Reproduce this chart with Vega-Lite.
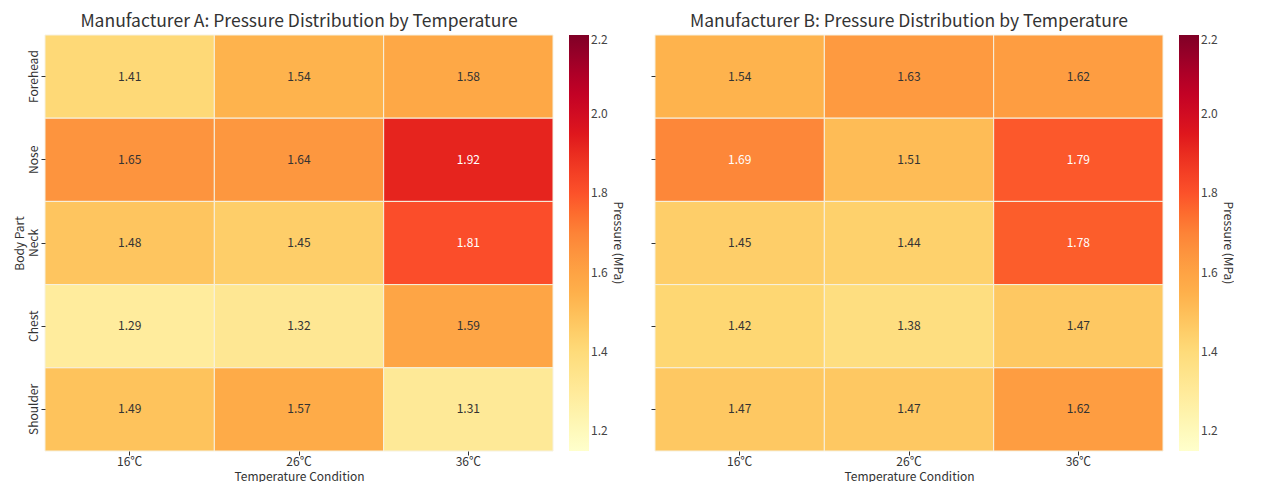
{
  "$schema": "https://vega.github.io/schema/vega-lite/v6.json",
  "padding": {"left": 13, "top": 13, "right": 0, "bottom": 0},
  "background": "white",
  "config": {
    "font": "Noto Sans CJK KR",
    "view": {"stroke": null},
    "axis": {"grid": false, "domain": false, "tickColor": "#333", "tickSize": 4, "labelFontSize": 12, "titleFontSize": 12, "labelColor": "#333", "titleColor": "#333", "titleFontWeight": "normal", "labelPadding": 1, "titlePadding": 4},
    "title": {"fontSize": 17.5, "fontWeight": "normal", "color": "#333", "offset": 4},
    "legend": {"gradientLength": 416, "gradientThickness": 20, "labelFontSize": 12, "labelColor": "#444", "titleFontSize": 12, "titleColor": "#333", "titleFontWeight": "normal", "titleOrient": "right", "titleAngle": 270, "titleAnchor": "middle", "titlePadding": 3, "offset": 16, "direction": "vertical", "padding": 0, "labelOffset": 13}
  },
  "datasets": {
    "a": [
      {"part": "Forehead", "temp": "16℃", "pressure": 1.41},
      {"part": "Forehead", "temp": "26℃", "pressure": 1.54},
      {"part": "Forehead", "temp": "36℃", "pressure": 1.58},
      {"part": "Nose", "temp": "16℃", "pressure": 1.65},
      {"part": "Nose", "temp": "26℃", "pressure": 1.64},
      {"part": "Nose", "temp": "36℃", "pressure": 1.92},
      {"part": "Neck", "temp": "16℃", "pressure": 1.48},
      {"part": "Neck", "temp": "26℃", "pressure": 1.45},
      {"part": "Neck", "temp": "36℃", "pressure": 1.81},
      {"part": "Chest", "temp": "16℃", "pressure": 1.29},
      {"part": "Chest", "temp": "26℃", "pressure": 1.32},
      {"part": "Chest", "temp": "36℃", "pressure": 1.59},
      {"part": "Shoulder", "temp": "16℃", "pressure": 1.49},
      {"part": "Shoulder", "temp": "26℃", "pressure": 1.57},
      {"part": "Shoulder", "temp": "36℃", "pressure": 1.31}
    ],
    "b": [
      {"part": "Forehead", "temp": "16℃", "pressure": 1.54},
      {"part": "Forehead", "temp": "26℃", "pressure": 1.63},
      {"part": "Forehead", "temp": "36℃", "pressure": 1.62},
      {"part": "Nose", "temp": "16℃", "pressure": 1.69},
      {"part": "Nose", "temp": "26℃", "pressure": 1.51},
      {"part": "Nose", "temp": "36℃", "pressure": 1.79},
      {"part": "Neck", "temp": "16℃", "pressure": 1.45},
      {"part": "Neck", "temp": "26℃", "pressure": 1.44},
      {"part": "Neck", "temp": "36℃", "pressure": 1.78},
      {"part": "Chest", "temp": "16℃", "pressure": 1.42},
      {"part": "Chest", "temp": "26℃", "pressure": 1.38},
      {"part": "Chest", "temp": "36℃", "pressure": 1.47},
      {"part": "Shoulder", "temp": "16℃", "pressure": 1.47},
      {"part": "Shoulder", "temp": "26℃", "pressure": 1.47},
      {"part": "Shoulder", "temp": "36℃", "pressure": 1.62}
    ]
  },
  "spacing": 26,
  "resolve": {"scale": {"color": "independent"}},
  "hconcat": [
    {
      "data": {"name": "a"},
      "width": 508,
      "height": 416,
      "title": "Manufacturer A: Pressure Distribution by Temperature",
      "encoding": {
        "x": {"field": "temp", "type": "ordinal", "sort": ["16℃", "26℃", "36℃"], "axis": {"labelAngle": 0, "title": "Temperature Condition"}},
        "y": {"field": "part", "type": "ordinal", "sort": ["Forehead", "Nose", "Neck", "Chest", "Shoulder"], "axis": {"labelAngle": 270, "title": "Body Part", "titlePadding": 1}}
      },
      "layer": [
        {
          "mark": {"type": "rect", "stroke": "#f6f1e0", "strokeWidth": 1},
          "encoding": {
            "color": {"field": "pressure", "type": "quantitative", "scale": {"domain": [1.15, 1.28125, 1.4125, 1.54375, 1.675, 1.80625, 1.9375, 2.06875, 2.2], "range": ["#ffffcc", "#ffeda0", "#fed976", "#feb24c", "#fd8d3c", "#fc4e2a", "#e31a1c", "#bd0026", "#800026"]}, "legend": {"title": "Pressure (MPa)", "values": [1.2, 1.4, 1.6, 1.8, 2.0, 2.2], "format": ".1f"}}
          }
        },
        {
          "mark": {"type": "text", "fontSize": 12},
          "encoding": {
            "text": {"field": "pressure", "type": "quantitative", "format": ".2f"},
            "color": {"condition": {"test": "datum.pressure >= 1.67", "value": "white"}, "value": "#333"}
          }
        }
      ]
    },
    {
      "data": {"name": "b"},
      "width": 508,
      "height": 416,
      "title": "Manufacturer B: Pressure Distribution by Temperature",
      "encoding": {
        "x": {"field": "temp", "type": "ordinal", "sort": ["16℃", "26℃", "36℃"], "axis": {"labelAngle": 0, "title": "Temperature Condition"}},
        "y": {"field": "part", "type": "ordinal", "sort": ["Forehead", "Nose", "Neck", "Chest", "Shoulder"], "axis": {"labels": false, "title": null}}
      },
      "layer": [
        {
          "mark": {"type": "rect", "stroke": "#f6f1e0", "strokeWidth": 1},
          "encoding": {
            "color": {"field": "pressure", "type": "quantitative", "scale": {"domain": [1.15, 1.28125, 1.4125, 1.54375, 1.675, 1.80625, 1.9375, 2.06875, 2.2], "range": ["#ffffcc", "#ffeda0", "#fed976", "#feb24c", "#fd8d3c", "#fc4e2a", "#e31a1c", "#bd0026", "#800026"]}, "legend": {"title": "Pressure (MPa)", "values": [1.2, 1.4, 1.6, 1.8, 2.0, 2.2], "format": ".1f"}}
          }
        },
        {
          "mark": {"type": "text", "fontSize": 12},
          "encoding": {
            "text": {"field": "pressure", "type": "quantitative", "format": ".2f"},
            "color": {"condition": {"test": "datum.pressure >= 1.67", "value": "white"}, "value": "#333"}
          }
        }
      ]
    }
  ]
}
